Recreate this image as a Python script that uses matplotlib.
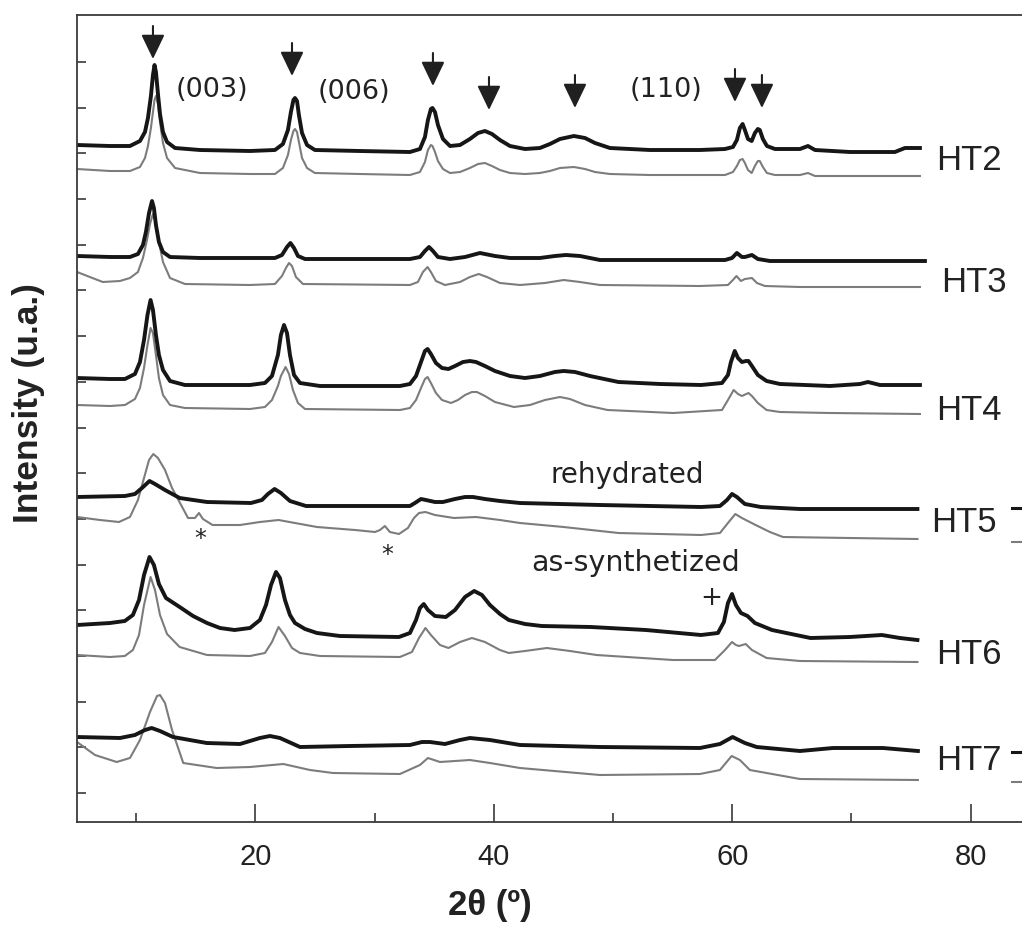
import numpy as np
import matplotlib
matplotlib.use('Agg')
import matplotlib.pyplot as plt

# XRD patterns, (2theta, intensity a.u. with vertical offset)
ht2_rehyd = [(5.05, 677), (7.82, 676), (9.49, 676), (10.33, 681), (10.75, 690), (11.0, 704), (11.25, 726),
             (11.42, 747), (11.55, 757), (11.67, 750), (11.84, 728), (12.01, 708), (12.26, 690), (12.6, 680),
             (13.27, 674), (15.36, 672), (19.56, 671), (21.65, 672), (22.32, 678), (22.74, 692), (22.99, 710),
             (23.2, 722), (23.33, 724), (23.5, 721), (23.66, 707), (23.92, 689), (24.34, 677), (25.0, 672),
             (28.78, 671), (32.97, 670), (33.81, 673), (34.23, 685), (34.48, 702), (34.73, 713), (34.86, 714),
             (35.07, 710), (35.32, 697), (35.74, 683), (36.33, 676), (37.17, 677), (38.0, 683), (38.68, 689),
             (39.26, 691), (39.85, 688), (40.52, 682), (41.36, 676), (42.62, 673), (43.87, 674), (44.71, 678),
             (45.55, 683), (46.72, 686), (47.65, 684), (48.49, 679), (49.74, 674), (53.1, 672), (57.29, 672),
             (59.39, 673), (60.06, 675), (60.39, 682), (60.64, 694), (60.87, 698), (61.06, 692), (61.32, 683),
             (61.63, 681), (61.9, 689), (62.15, 693), (62.31, 692), (62.57, 683), (62.91, 676), (63.58, 673),
             (65.68, 673), (66.35, 676), (66.94, 672), (69.87, 670), (73.64, 670), (74.48, 674), (75.74, 674)]
ht2_synth = [(5.05, 653), (7.82, 651), (9.49, 651), (10.33, 655), (10.75, 664), (11.0, 676), (11.25, 694),
             (11.42, 710), (11.55, 722), (11.67, 726), (11.84, 718), (12.01, 700), (12.26, 679), (12.6, 664),
             (13.27, 654), (15.36, 649), (19.56, 648), (21.65, 648), (22.32, 654), (22.74, 667), (22.99, 682),
             (23.2, 691), (23.33, 693), (23.5, 690), (23.66, 680), (23.92, 664), (24.34, 654), (25.0, 649),
             (28.78, 648), (32.97, 647), (33.81, 650), (34.23, 660), (34.48, 672), (34.73, 677), (34.86, 676),
             (35.07, 670), (35.32, 661), (35.74, 653), (36.33, 649), (37.17, 650), (38.0, 654), (38.68, 658),
             (39.26, 659), (39.85, 656), (40.52, 652), (41.36, 649), (42.62, 648), (43.87, 649), (44.71, 651),
             (45.55, 654), (46.72, 655), (47.65, 653), (48.49, 650), (49.74, 648), (53.1, 647), (57.29, 647),
             (59.39, 647), (60.06, 650), (60.39, 656), (60.64, 662), (60.87, 663), (61.06, 659), (61.32, 652),
             (61.63, 649), (61.9, 656), (62.15, 661), (62.31, 661), (62.57, 655), (62.91, 649), (63.58, 647),
             (65.68, 647), (66.35, 649), (66.94, 646), (69.87, 646), (75.74, 646)]

ht3_rehyd = [(5.05, 566), (7.82, 565), (9.49, 565), (10.16, 568), (10.58, 577), (10.83, 590), (11.09, 609),
             (11.34, 621), (11.5, 614), (11.67, 597), (11.92, 580), (12.26, 570), (12.85, 565), (15.36, 564),
             (21.65, 564), (22.24, 567), (22.66, 575), (22.95, 579), (23.25, 574), (23.58, 566), (24.17, 563),
             (32.97, 563), (33.81, 565), (34.23, 571), (34.57, 575), (34.9, 571), (35.32, 565), (36.33, 563),
             (37.59, 565), (38.84, 569), (40.1, 566), (41.36, 564), (43.87, 564), (45.13, 566), (46.05, 567),
             (47.23, 566), (48.91, 562), (59.39, 562), (59.98, 564), (60.39, 569), (60.81, 565), (61.06, 565),
             (61.65, 567), (62.15, 563), (63.16, 561), (76.16, 561)]
ht3_synth = [(5.05, 550), (7.21, 540), (8.65, 541), (9.49, 544), (10.16, 550), (10.58, 564), (10.92, 582),
             (11.17, 598), (11.42, 608), (11.67, 600), (11.92, 580), (12.26, 560), (12.85, 544), (14.1, 538),
             (19.56, 537), (21.65, 538), (22.24, 546), (22.57, 554), (22.83, 559), (23.08, 556), (23.41, 545),
             (24.0, 538), (32.97, 537), (33.64, 540), (34.06, 550), (34.45, 555), (34.73, 550), (35.15, 541),
             (35.91, 537), (37.17, 540), (38.0, 545), (38.74, 548), (39.43, 545), (40.52, 539), (42.2, 537),
             (44.29, 539), (45.86, 542), (47.23, 540), (48.91, 537), (57.29, 536), (59.64, 537), (60.06, 542),
             (60.35, 546), (60.73, 541), (61.06, 543), (61.65, 544), (62.07, 539), (62.74, 536), (65.68, 535),
             (75.74, 535)]

ht4_rehyd = [(5.05, 444), (7.82, 443), (9.07, 443), (9.91, 448), (10.33, 460), (10.67, 482), (10.96, 507),
             (11.22, 522), (11.42, 512), (11.67, 487), (11.92, 467), (12.26, 452), (12.85, 441), (14.1, 437),
             (19.56, 437), (20.81, 439), (21.4, 446), (21.9, 467), (22.15, 487), (22.41, 497), (22.66, 489),
             (22.91, 467), (23.25, 447), (23.75, 439), (25.43, 436), (32.13, 436), (32.97, 438), (33.48, 446),
             (33.9, 460), (34.23, 471), (34.45, 473), (34.73, 468), (35.15, 459), (35.66, 454), (36.2, 453),
             (36.75, 456), (37.42, 460), (38.0, 461), (38.51, 460), (39.26, 456), (40.1, 451), (41.36, 446),
             (42.62, 444), (43.87, 446), (45.13, 450), (45.86, 451), (46.81, 450), (48.07, 446), (50.46, 440),
             (53.94, 438), (57.38, 437), (59.14, 439), (59.64, 447), (59.89, 460), (60.21, 471), (60.48, 464),
             (60.81, 460), (61.15, 461), (61.36, 461), (61.65, 456), (62.15, 447), (62.88, 441), (64.0, 438),
             (68.19, 436), (70.71, 438), (71.38, 440), (72.39, 437), (75.74, 437)]
ht4_synth = [(5.05, 417), (7.82, 416), (9.07, 417), (9.91, 423), (10.33, 434), (10.67, 454), (10.96, 477),
             (11.22, 494), (11.42, 489), (11.67, 467), (11.92, 444), (12.26, 427), (12.85, 417), (14.1, 414),
             (19.56, 413), (20.81, 415), (21.4, 422), (21.9, 436), (22.15, 446), (22.54, 455), (22.83, 448),
             (23.16, 432), (23.58, 419), (24.17, 413), (32.13, 412), (32.97, 414), (33.48, 422), (33.9, 434),
             (34.23, 443), (34.45, 445), (34.73, 439), (35.15, 429), (35.66, 422), (36.41, 419), (37.0, 422),
             (37.59, 427), (38.17, 430), (38.59, 430), (39.26, 426), (40.1, 420), (41.69, 415), (43.04, 417),
             (44.29, 422), (45.55, 425), (46.39, 423), (47.65, 417), (49.54, 412), (55.03, 409), (59.14, 412),
             (59.64, 422), (60.12, 432), (60.48, 428), (60.81, 426), (61.36, 429), (61.65, 426), (62.15, 419),
             (62.88, 412), (64.0, 410), (68.19, 409), (75.74, 408)]

ht5_rehyd = [(5.05, 325), (9.07, 326), (9.91, 328), (10.5, 334), (11.13, 341), (11.59, 338), (12.43, 332),
             (13.66, 324), (15.95, 320), (19.64, 319), (20.56, 322), (21.06, 328), (21.62, 333), (22.15, 329),
             (22.91, 321), (24.25, 316), (32.97, 316), (33.39, 319), (33.9, 323), (34.31, 322), (35.07, 320),
             (35.74, 320), (36.75, 323), (37.59, 325), (38.26, 325), (39.26, 323), (40.52, 321), (42.2, 319),
             (48.91, 317), (57.38, 315), (58.97, 316), (59.56, 322), (59.98, 328), (60.39, 325), (61.06, 318),
             (62.4, 315), (65.68, 313), (75.53, 313)]
ht5_synth = [(5.05, 305), (6.98, 302), (8.57, 300), (9.49, 305), (10.16, 322), (10.67, 344), (11.09, 362),
             (11.45, 368), (11.84, 364), (12.43, 352), (13.02, 334), (13.69, 319), (14.36, 304), (14.94, 304),
             (15.28, 309), (15.61, 303), (16.42, 297), (18.72, 297), (20.39, 300), (21.95, 302), (23.33, 299),
             (25.17, 295), (28.36, 292), (30.04, 290), (30.46, 292), (30.87, 296), (31.29, 290), (32.05, 288),
             (32.8, 294), (33.31, 304), (33.73, 309), (34.27, 310), (35.07, 307), (36.66, 304), (38.51, 305),
             (40.52, 302), (42.2, 299), (45.86, 295), (50.46, 289), (57.38, 287), (58.97, 289), (59.64, 299),
             (60.26, 308), (60.81, 304), (61.96, 297), (63.16, 290), (64.25, 285), (69.87, 284), (75.53, 283)]

ht6_rehyd = [(5.05, 197), (7.82, 199), (9.06, 201), (9.74, 207), (10.25, 222), (10.67, 247), (11.13, 265),
             (11.5, 257), (11.92, 238), (12.51, 224), (13.66, 215), (14.78, 206), (15.95, 199), (17.04, 194),
             (18.26, 192), (19.56, 194), (20.39, 202), (20.9, 217), (21.32, 237), (21.74, 250), (22.07, 244),
             (22.49, 222), (22.91, 207), (23.33, 199), (24.17, 193), (25.17, 189), (27.1, 186), (32.05, 185),
             (32.97, 189), (33.48, 202), (33.81, 214), (34.13, 218), (34.48, 212), (35.07, 206), (35.98, 205),
             (36.75, 212), (37.59, 225), (38.36, 231), (39.01, 227), (39.68, 217), (40.52, 208), (41.26, 202),
             (42.62, 198), (44.02, 196), (48.15, 195), (52.76, 192), (57.38, 187), (58.8, 189), (59.3, 200),
             (59.64, 219), (59.98, 228), (60.31, 217), (60.73, 209), (61.28, 206), (61.9, 199), (63.33, 192),
             (66.56, 184), (69.87, 185), (72.55, 187), (74.06, 184), (75.53, 182)]
ht6_synth = [(5.05, 167), (7.82, 165), (9.06, 166), (9.74, 172), (10.25, 187), (10.67, 217), (11.22, 245),
             (11.59, 232), (12.01, 207), (12.6, 188), (13.66, 175), (15.95, 167), (19.56, 166), (20.81, 169),
             (21.4, 180), (21.95, 195), (22.49, 186), (23.08, 174), (23.75, 169), (25.43, 166), (32.13, 165),
             (33.14, 170), (33.73, 184), (34.27, 194), (34.73, 187), (35.49, 177), (36.2, 174), (37.17, 180),
             (38.17, 184), (39.26, 180), (40.52, 172), (41.26, 169), (42.62, 171), (44.46, 174), (46.39, 171),
             (48.62, 167), (55.03, 162), (58.55, 162), (59.39, 172), (59.98, 180), (60.31, 177), (60.56, 176),
             (61.13, 178), (61.65, 172), (62.88, 164), (65.68, 161), (75.53, 160)]

ht7_rehyd = [(5.05, 85), (8.65, 84), (9.91, 87), (10.75, 92), (11.31, 94), (12.01, 91), (13.1, 85),
             (15.92, 79), (18.72, 78), (20.39, 84), (21.23, 86), (22.07, 84), (23.75, 75), (27.94, 76),
             (32.97, 77), (33.98, 80), (34.65, 80), (35.91, 78), (37.17, 82), (38.0, 84), (39.68, 82),
             (42.2, 77), (48.91, 75), (57.29, 74), (58.97, 78), (60.03, 85), (61.06, 79), (62.05, 75),
             (65.68, 71), (68.45, 74), (72.64, 74), (75.57, 71)]
ht7_synth = [(5.05, 80), (6.56, 67), (8.38, 60), (9.49, 64), (10.33, 82), (11.17, 110), (11.76, 126),
             (12.01, 127), (12.43, 119), (13.02, 92), (13.96, 59), (16.76, 54), (19.56, 55), (22.35, 58),
             (24.59, 52), (26.52, 49), (32.13, 48), (33.81, 57), (34.48, 64), (35.49, 60), (38.0, 62),
             (39.68, 59), (42.2, 54), (48.91, 47), (57.29, 48), (58.97, 52), (59.95, 66), (60.64, 62),
             (61.48, 52), (65.68, 43), (75.57, 42)]

samples = ['HT2', 'HT3', 'HT4', 'HT5', 'HT6', 'HT7']
rehydrated = [ht2_rehyd, ht3_rehyd, ht4_rehyd, ht5_rehyd, ht6_rehyd, ht7_rehyd]
synthetized = [ht2_synth, ht3_synth, ht4_synth, ht5_synth, ht6_synth, ht7_synth]

# reflections marked with arrows (2theta of the arrow)
arrow_tt = [11.42, 23.08, 34.9, 39.6, 46.81, 60.23, 62.49]
miller = ['(003)', '(006)', '(110)']

BLACK = '#161616'
GRAY = '#7c7c7c'
AXC = '#3a3a3a'

fig = plt.figure(figsize=(10.22, 9.26), dpi=100)
ax = fig.add_axes([77 / 1022, 104 / 926, 945 / 1022, 807 / 926])

for syn, reh in zip(synthetized, rehydrated):
    x, y = zip(*syn)
    ax.plot(x, y, color=GRAY, lw=1.5, solid_joinstyle='round')
    x, y = zip(*reh)
    ax.plot(x, y, color=BLACK, lw=2.8, solid_joinstyle='round')

# sample names at the right of each pair
lab_x = [77.1, 77.5, 77.1, 76.7, 77.1, 77.1]
lab_y = [662, 539, 412, 299, 167, 62]
for name, lx, ly in zip(samples, lab_x, lab_y):
    ax.text(lx, ly, name, fontsize=25, family='Liberation Sans', va='center', ha='left', color='#222222')

# cut-off bracket marks at the right edge (HT5 and HT7)
for yb, yg in [(314, 280), (70, 40)]:
    ax.plot([83.5, 84.3], [yb, yb], color=BLACK, lw=2.2, clip_on=False)
    ax.plot([83.5, 84.3], [yg, yg], color=GRAY, lw=1.5, clip_on=False)

# arrows over the peaks of HT2
arrow_tip = [763, 746, 736, 712, 714, 720, 714]
for tt, tip in zip(arrow_tt, arrow_tip):
    ax.annotate('', xy=(tt, tip), xytext=(tt, tip + 33),
                arrowprops=dict(arrowstyle='-|>,head_length=0.75,head_width=0.36', color='#202020',
                                lw=1.5, shrinkA=0, shrinkB=0, mutation_scale=20))

for txt, tx, ty in zip(miller, [16.37, 28.28, 54.44], [732, 730, 732]):
    ax.text(tx, ty, txt, fontsize=19.5, ha='center', va='center', color='#222222')

ax.text(51.17, 347, 'rehydrated', fontsize=20, ha='center', va='center', color='#222222')
ax.text(51.93, 259, 'as-synthetized', fontsize=20.5, ha='center', va='center', color='#222222')
ax.text(15.36, 283, '*', fontsize=17, ha='center', va='center', color='#222222')
ax.text(31.04, 267, '*', fontsize=17, ha='center', va='center', color='#222222')
ax.text(58.22, 224, '+', fontsize=19, ha='center', va='center', color='#222222')

ax.set_xlim(5.05, 84.3)
ax.set_ylim(0, 807)
ax.set_xticks([20, 40, 60, 80])
ax.set_xticks([10, 30, 50, 70], minor=True)
ax.set_yticks(np.linspace(29, 760, 17))
ax.set_yticklabels([])
ax.tick_params(axis='x', which='major', direction='in', length=13, width=1.2, color=AXC, pad=15,
               labelsize=21)
ax.tick_params(axis='x', which='minor', direction='in', length=6.5, width=1.2, color=AXC)
ax.tick_params(axis='y', direction='in', length=6.5, width=1.2, color=AXC)
for lbl in ax.get_xticklabels():
    lbl.set_family('Liberation Sans')
    lbl.set_color('#222222')
for side in ['left', 'bottom', 'top']:
    ax.spines[side].set_color(AXC)
    ax.spines[side].set_linewidth(1.3)
ax.spines['right'].set_visible(False)

fig.text(490 / 1022, 1 - 905 / 926, '2θ (º)', fontsize=25, fontweight='bold', family='Liberation Sans',
         ha='center', va='center', color='#222222')
fig.text(29 / 1022, 1 - 403 / 926, 'Intensity (u.a.)', fontsize=25.5, fontweight='bold',
         family='Liberation Sans', rotation=90, ha='center', va='center', color='#222222')

fig.savefig('out.png', dpi=100)
